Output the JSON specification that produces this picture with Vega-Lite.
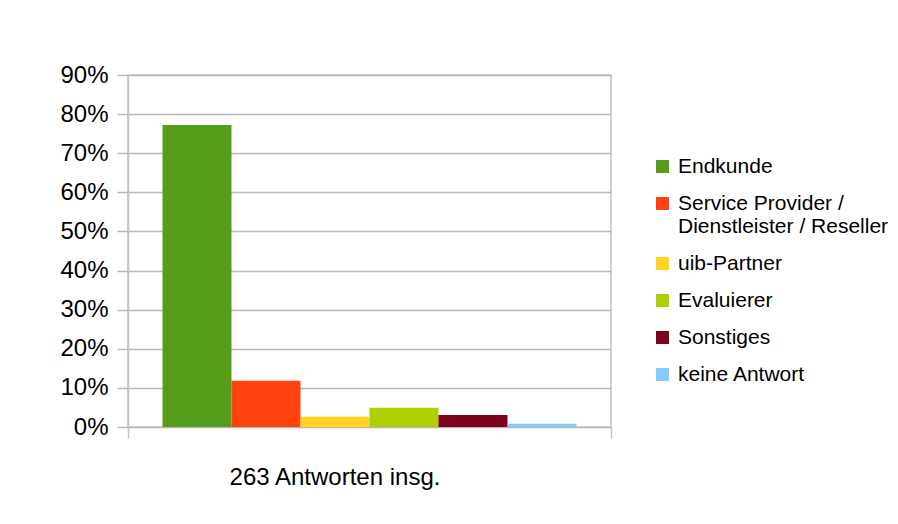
{
  "$schema": "https://vega.github.io/schema/vega-lite/v6.json",
  "autosize": {"type": "none"},
  "padding": {"left": 128, "top": 75, "right": 287, "bottom": 97},
  "width": 483,
  "height": 352,
  "background": "white",
  "config": {
    "font": "Liberation Sans",
    "view": {"stroke": "#c4c4c4", "strokeWidth": 1.5}
  },
  "data": {
    "values": [
      {"gruppe": "263 Antworten insg.", "kategorie": "Endkunde", "anteil": 0.772},
      {"gruppe": "263 Antworten insg.", "kategorie": "Service Provider / Dienstleister / Reseller", "anteil": 0.118},
      {"gruppe": "263 Antworten insg.", "kategorie": "uib-Partner", "anteil": 0.026},
      {"gruppe": "263 Antworten insg.", "kategorie": "Evaluierer", "anteil": 0.049},
      {"gruppe": "263 Antworten insg.", "kategorie": "Sonstiges", "anteil": 0.031},
      {"gruppe": "263 Antworten insg.", "kategorie": "keine Antwort", "anteil": 0.008}
    ]
  },
  "mark": {"type": "bar"},
  "encoding": {
    "x": {
      "field": "gruppe",
      "type": "nominal",
      "scale": {"paddingInner": 0, "paddingOuter": 0},
      "axis": {
        "title": null,
        "domain": false,
        "ticks": true,
        "tickBand": "extent",
        "tickSize": 11,
        "tickColor": "#c4c4c4",
        "tickWidth": 1.5,
        "labelAngle": 0,
        "labelFontSize": 24,
        "labelLimit": 400,
        "labelColor": "#000000",
        "labelOffset": -35,
        "labelPadding": 27
      }
    },
    "xOffset": {
      "field": "kategorie",
      "type": "nominal",
      "sort": ["Endkunde", "Service Provider / Dienstleister / Reseller", "uib-Partner", "Evaluierer", "Sonstiges", "keine Antwort"],
      "scale": {"paddingInner": 0, "paddingOuter": 0.5}
    },
    "y": {
      "field": "anteil",
      "type": "quantitative",
      "scale": {"domain": [0, 0.9], "nice": false},
      "axis": {
        "title": null,
        "format": ".0%",
        "values": [0, 0.1, 0.2, 0.3, 0.4, 0.5, 0.6, 0.7, 0.8, 0.9],
        "grid": true,
        "gridColor": "#b8b8b8",
        "gridWidth": 1.5,
        "domain": true,
        "domainColor": "#c4c4c4",
        "domainWidth": 1.5,
        "tickColor": "#b8b8b8",
        "tickSize": 11,
        "tickWidth": 1.5,
        "labelFontSize": 24,
        "labelColor": "#000000",
        "labelPadding": 9
      }
    },
    "color": {
      "field": "kategorie",
      "type": "nominal",
      "sort": ["Endkunde", "Service Provider / Dienstleister / Reseller", "uib-Partner", "Evaluierer", "Sonstiges", "keine Antwort"],
      "scale": {
        "domain": ["Endkunde", "Service Provider / Dienstleister / Reseller", "uib-Partner", "Evaluierer", "Sonstiges", "keine Antwort"],
        "range": ["#579d1c", "#ff420e", "#ffd320", "#aecf00", "#7e0021", "#83caff"]
      },
      "legend": {
        "title": null,
        "orient": "none",
        "legendX": 524,
        "legendY": 81,
        "symbolType": "square",
        "symbolSize": 169,
        "symbolStrokeWidth": 0,
        "symbolOpacity": 1,
        "labelFontSize": 21,
        "labelColor": "#000000",
        "labelOffset": 5,
        "labelLimit": 300,
        "rowPadding": 15,
        "labelExpr": "datum.label == 'Service Provider / Dienstleister / Reseller' ? ['Service Provider /', 'Dienstleister / Reseller'] : datum.label"
      }
    }
  }
}
